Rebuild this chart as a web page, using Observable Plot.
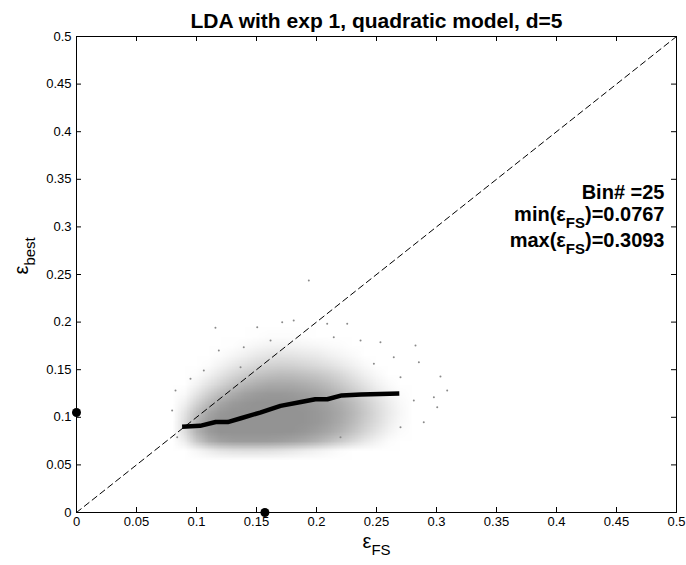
<!DOCTYPE html>
<html><head><meta charset="utf-8">
<script src="https://cdn.jsdelivr.net/npm/d3@7"></script>
<script src="https://cdn.jsdelivr.net/npm/@observablehq/plot@0.6"></script>
<style>
body{margin:0;background:#fff;}
#chart svg{font-family:"Liberation Sans",Arial,Helvetica,sans-serif;}
</style>
</head><body><div id="chart"></div>
<script>
// ---------- data ----------
const title = "LDA with exp 1, quadratic model, d=5";
const xLabel = "ε_{FS}";
const yLabel = "ε_{best}";
const annotations = ["Bin# =25", "min(ε_{FS})=0.0767", "max(ε_{FS})=0.3093"];
const xTicks = [0, 0.05, 0.1, 0.15, 0.2, 0.25, 0.3, 0.35, 0.4, 0.45, 0.5];
const yTicks = [0, 0.05, 0.1, 0.15, 0.2, 0.25, 0.3, 0.35, 0.4, 0.45, 0.5];
const diagonal = [0, 0.5];

// binned mean curve
const binX = [0.088, 0.103, 0.116, 0.126, 0.137, 0.153, 0.170, 0.187, 0.199, 0.209, 0.221, 0.237, 0.269];
const binY = [0.090, 0.091, 0.095, 0.095, 0.099, 0.105, 0.112, 0.116, 0.119, 0.119, 0.123, 0.124, 0.125];

// the two black markers on the axes
const markerX = [0, 0.157];
const markerY = [0.105, 0];

// estimated point density of the grey cloud (rows top -> bottom)
const densityXExtent = [0.075, 0.305];  // 23 columns, centres 0.08 .. 0.30
const densityYExtent = [0.24, 0.05];    // 19 rows, centres 0.235 .. 0.055
const density = [
 [0,0,0,0,0,0,0,0,0,0,0,0,0,0,0,0,0,0,0,0,0,0,0],
 [0,0,0,0,0,0,0,0,0,0,0,0,0,0,0,0,0,0,0,0,0,0,0],
 [0,0,0,0,0,0,0,0,0.1,0.1,0.1,0.1,0,0,0,0,0,0,0,0,0,0,0],
 [0,0,0,0,0,0.1,0.1,0.2,0.2,0.2,0.2,0.2,0.2,0.1,0,0,0,0,0,0,0,0,0],
 [0,0,0,0,0.1,0.2,0.3,0.4,0.4,0.4,0.4,0.4,0.3,0.3,0.2,0.1,0,0,0,0,0,0,0],
 [0,0,0,0.1,0.2,0.4,0.6,0.7,0.8,0.8,0.8,0.7,0.6,0.5,0.4,0.3,0.2,0.1,0,0,0,0,0],
 [0,0,0.1,0.2,0.4,0.7,1.0,1.3,1.5,1.6,1.5,1.4,1.2,1.0,0.8,0.5,0.3,0.2,0.1,0,0,0,0],
 [0,0.1,0.2,0.4,0.8,1.3,1.8,2.3,2.6,2.8,2.7,2.5,2.2,1.8,1.4,1.0,0.6,0.3,0.2,0.1,0,0,0],
 [0,0.1,0.4,0.8,1.5,2.3,3.0,3.6,4.0,4.2,4.1,3.8,3.4,2.9,2.3,1.7,1.1,0.6,0.3,0.2,0.1,0,0],
 [0,0.3,0.8,1.6,2.6,3.6,4.5,5.2,5.6,5.8,5.7,5.4,5.0,4.4,3.6,2.7,1.8,1.1,0.6,0.3,0.2,0.1,0],
 [0.1,0.5,1.5,2.8,4.0,5.2,6.2,6.8,7.2,7.3,7.2,6.9,6.4,5.7,4.8,3.8,2.7,1.7,1.0,0.5,0.3,0.1,0.1],
 [0.2,1.0,2.6,4.3,5.8,7.0,7.8,8.3,8.5,8.5,8.4,8.1,7.6,6.9,6.0,4.9,3.7,2.5,1.5,0.8,0.4,0.2,0.1],
 [0.3,1.8,4.0,6.0,7.5,8.4,8.8,9,9,9,8.9,8.7,8.3,7.7,6.9,5.8,4.5,3.2,2.0,1.1,0.5,0.3,0.1],
 [0.5,2.7,5.5,7.5,8.6,9,9,9,9,9,9,8.9,8.6,8.1,7.3,6.2,4.9,3.5,2.2,1.2,0.6,0.3,0.1],
 [0.6,3.2,6.5,8.3,9,9,9,9,9,9,9,8.9,8.6,8.0,7.1,6.0,4.6,3.3,2.0,1.1,0.5,0.2,0.1],
 [0.6,3.2,6.5,8.3,9,9,9,9,9,9,8.9,8.6,8.1,7.4,6.4,5.2,3.9,2.6,1.5,0.8,0.3,0.1,0],
 [0.3,2.0,4.8,6.8,7.8,8.2,8.3,8.3,8.2,8.0,7.7,7.2,6.5,5.6,4.6,3.5,2.4,1.5,0.8,0.3,0.1,0,0],
 [0,0.3,1.2,2.0,2.6,2.9,3.0,3.0,2.9,2.7,2.4,2.0,1.6,1.2,0.8,0.5,0.3,0.1,0,0,0,0,0],
 [0,0,0.1,0.2,0.3,0.3,0.3,0.3,0.3,0.2,0.2,0.1,0.1,0,0,0,0,0,0,0,0,0,0]
];

// isolated outlying points of the cloud
const outlierX = [0.1936,0.1158,0.1506,0.1617,0.181,0.2256,0.2367,0.2533,0.2825,0.2853,0.3033,0.3089,0.3006,0.2894,0.27,0.22,0.0825,0.0797,0.095,0.1186,0.1394,0.1367,0.1061,0.27,0.2644,0.2478,0.2978,0.2811,0.0839,0.2089,0.1714,0.2144];
const outlierY = [0.2437,0.194,0.1947,0.1807,0.2017,0.1982,0.1807,0.1789,0.1754,0.1579,0.1429,0.1282,0.1106,0.0949,0.0896,0.0791,0.1282,0.1071,0.1404,0.1702,0.1737,0.1527,0.1492,0.1422,0.1632,0.1562,0.1211,0.1176,0.0791,0.1982,0.1999,0.1842];

// ---------- build ----------
const W = 686, H = 565;
const mL = 76, mR = 10, mT = 36, mB = 53;
const fw = W - mL - mR, fh = H - mT - mB;
const tick = 5;

const binData = binX.map((x, i) => ({x, y: binY[i]}));
const markers = markerX.map((x, i) => ({x, y: markerY[i]}));
const outliers = outlierX.map((x, i) => ({x, y: outlierY[i]}));
const diag = diagonal.map(v => ({x: v, y: v}));
const nRows = density.length, nCols = density[0].length;

const plot = Plot.plot({
  width: W, height: H,
  marginLeft: mL, marginRight: mR, marginTop: mT, marginBottom: mB,
  style: {fontFamily: "Liberation Sans, Arial, Helvetica, sans-serif", fontSize: "13px", background: "white", color: "black"},
  x: {domain: [0, 0.5], nice: false},
  y: {domain: [0, 0.5], nice: false},
  color: {type: "linear", domain: [0.6, 9], range: ["#ffffff", "#939393"], clamp: true},
  marks: [
    Plot.raster(density.flat(), {
      width: nCols, height: nRows,
      x1: densityXExtent[0], x2: densityXExtent[1],
      y1: densityYExtent[0], y2: densityYExtent[1],
      fill: d => d, imageRendering: "auto"
    }),
    Plot.dot(outliers, {x: "x", y: "y", r: 1, fill: "#8a8a8a", stroke: null}),
    Plot.line(diag, {x: "x", y: "y", stroke: "black", strokeWidth: 1, strokeDasharray: "6,4"}),
    Plot.line(binData, {x: "x", y: "y", stroke: "black", strokeWidth: 4.5, strokeLinecap: "butt", strokeLinejoin: "round"}),
    Plot.frame({stroke: "black", strokeWidth: 1}),
    Plot.tickX(xTicks, {x: d => d, insetTop: fh - tick, stroke: "black"}),
    Plot.tickX(xTicks, {x: d => d, insetBottom: fh - tick, stroke: "black"}),
    Plot.tickY(yTicks, {y: d => d, insetRight: fw - tick, stroke: "black"}),
    Plot.tickY(yTicks, {y: d => d, insetLeft: fw - tick, stroke: "black"}),
    Plot.axisX(xTicks, {tickSize: 0, tickPadding: 4, fontSize: 13, tickFormat: d => String(d), label: null}),
    Plot.axisY(yTicks, {tickSize: 0, tickPadding: 5, fontSize: 13, tickFormat: d => String(d), label: null}),
    Plot.dot(markers, {x: "x", y: "y", r: 4.5, fill: "black", stroke: null}),
    Plot.text([title], {frameAnchor: "top", dy: -23, fontSize: 21, fontWeight: "bold", fill: "black"}),
    Plot.text([xLabel], {frameAnchor: "bottom", dy: 35, fontSize: 20, fill: "black"}),
    Plot.text([yLabel], {frameAnchor: "left", dx: -55, rotate: -90, fontSize: 20, fill: "black"}),
    Plot.text([annotations[0]], {frameAnchor: "top-right", dx: -12, dy: 148, fontSize: 20, fontWeight: "bold", textAnchor: "end", fill: "black"}),
    Plot.text([annotations[1]], {frameAnchor: "top-right", dx: -12, dy: 170, fontSize: 20, fontWeight: "bold", textAnchor: "end", fill: "black"}),
    Plot.text([annotations[2]], {frameAnchor: "top-right", dx: -12, dy: 196, fontSize: 20, fontWeight: "bold", textAnchor: "end", fill: "black"})
  ]
});

// turn "a_{b}c" into real subscripts
d3.select(plot).selectAll("text").each(function() {
  const t = this.textContent;
  const m = t.match(/^(.*?)_\{(.*?)\}(.*)$/);
  if (!m) return;
  const sel = d3.select(this);
  sel.text(null);
  const shift = 7;
  sel.append("tspan").text(m[1]);
  sel.append("tspan").attr("dy", shift).attr("font-size", 15).text(m[2]);
  if (m[3]) sel.append("tspan").attr("dy", -shift).text(m[3]);
});

document.getElementById("chart").appendChild(plot);
</script>
</body></html>
